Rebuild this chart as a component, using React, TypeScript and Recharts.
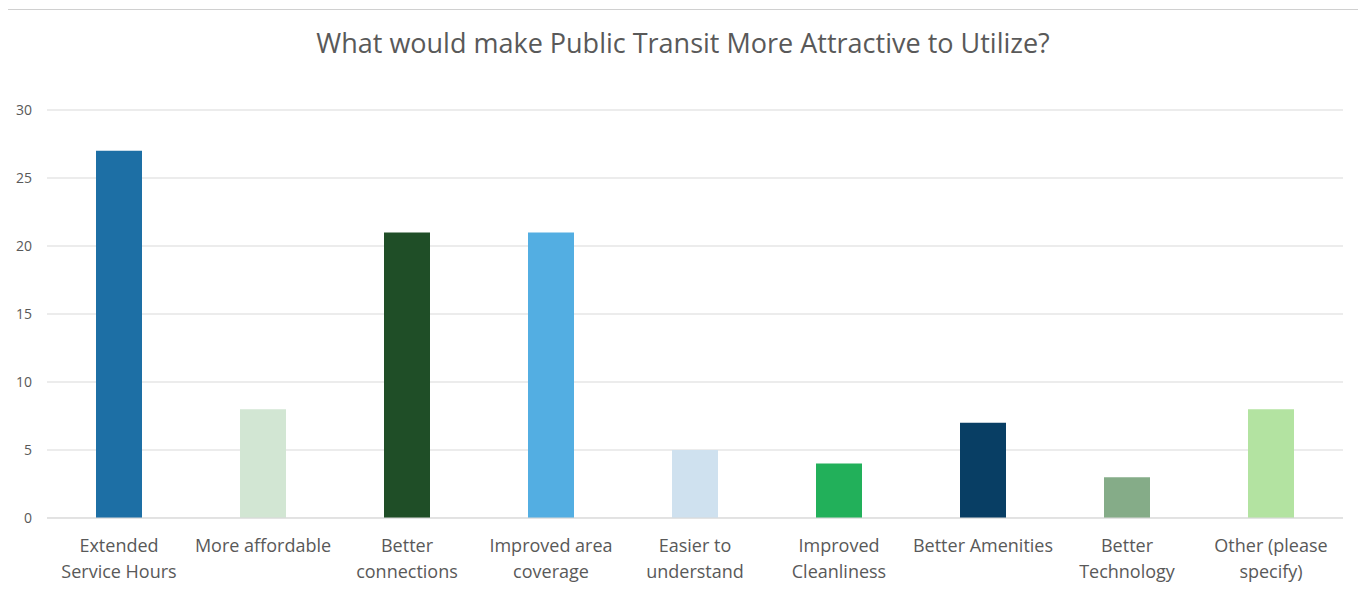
import { Bar, BarChart, CartesianGrid, Cell, XAxis, YAxis } from 'recharts';

const categories = [
    "Extended\nService Hours",
    "More affordable",
    "Better\nconnections",
    "Improved area\ncoverage",
    "Easier to\nunderstand",
    "Improved\nCleanliness",
    "Better Amenities",
    "Better\nTechnology",
    "Other (please\nspecify)",
];

const responses = [27, 8, 21, 21, 5, 4, 7, 3, 8];

const barColors = [
    '#1D6FA5',
    '#D2E6D3',
    '#1F4E27',
    '#53AEE2',
    '#CFE1EF',
    '#22B05A',
    '#083E64',
    '#85AC88',
    '#B3E3A1',
];

const yTicks = [0, 5, 10, 15, 20, 25, 30];

const FONT = '"Open Sans", "Noto Sans", sans-serif';

const data = categories.map((name, i) => ({ name, value: responses[i] }));

function CategoryTick({ x, y, payload }: any) {
    const lines = String(payload.value).split('\n');
    return (
        <text x={x} y={y + 26} textAnchor="middle" fill="#595959" fontSize={18} fontFamily={FONT}>
            {lines.map((line, i) => (
                <tspan key={i} x={x} dy={i === 0 ? 0 : 26}>{line}</tspan>
            ))}
        </text>
    );
}

export default function App() {
    return (
        <div style={{ position: 'relative', width: 1366, height: 613, marginLeft: -8, marginTop: -8, background: '#fff', overflow: 'hidden' }}>
            <div style={{ position: 'absolute', left: 5, top: 9, width: 1400, height: 700, border: '1px solid #d0d0d0', boxSizing: 'border-box' }} />
            <div style={{ position: 'absolute', left: 0, top: 24, width: 1366, textAlign: 'center', fontFamily: FONT, fontSize: 27, color: '#595959' }}>
                What would make Public Transit More Attractive to Utilize?
            </div>
            <div style={{ position: 'absolute', left: 0, top: 0 }}>
                <BarChart
                    width={1366}
                    height={613}
                    data={data}
                    margin={{ top: 110, right: 23, left: 7, bottom: 35 }}
                >
                    <CartesianGrid vertical={false} stroke="#d9d9d9" />
                    <XAxis
                        dataKey="name"
                        axisLine={{ stroke: '#d9d9d9' }}
                        tickLine={false}
                        interval={0}
                        height={60}
                        tick={<CategoryTick />}
                    />
                    <YAxis
                        width={40}
                        domain={[0, 30]}
                        ticks={yTicks}
                        axisLine={false}
                        tickLine={false}
                        tickMargin={9}
                        tick={{ fill: '#595959', fontSize: 14, fontFamily: FONT }}
                    />
                    <Bar dataKey="value" barSize={46} isAnimationActive={false}>
                        {data.map((entry, i) => (
                            <Cell key={entry.name} fill={barColors[i]} />
                        ))}
                    </Bar>
                </BarChart>
            </div>
        </div>
    );
}
